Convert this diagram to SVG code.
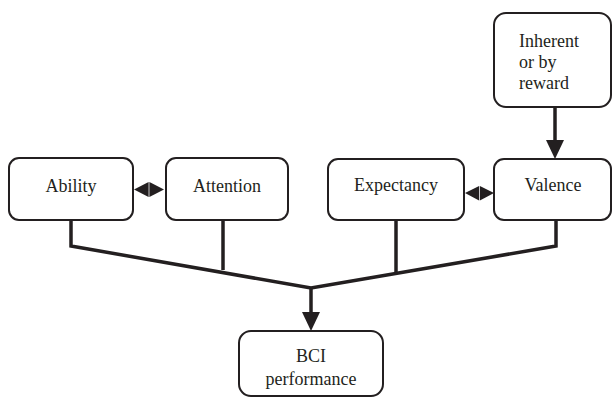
<svg xmlns="http://www.w3.org/2000/svg" width="614" height="399" viewBox="0 0 614 399">
<defs>
<style>
.box{fill:#fff;stroke:#231f20;stroke-width:2}
.c{text-anchor:middle}
.conn{fill:none;stroke:#231f20;stroke-width:3.5;stroke-linejoin:miter}
.head{fill:#231f20}
</style>
</defs>
<rect width="614" height="399" fill="#fff"/>
<g id="connectors">
<polyline class="conn" points="71,221 71,246 311,288 556,246 556,221"/>
<line class="conn" x1="223" y1="221" x2="223" y2="270"/>
<line class="conn" x1="396" y1="221" x2="396" y2="273"/>
<line class="conn" x1="311" y1="288" x2="311" y2="314"/>
<polygon class="head" points="302,312 320,312 311,331"/>
<line class="conn" x1="555" y1="107" x2="555" y2="142"/>
<polygon class="head" points="546,140 564,140 555,159"/>
<polygon class="head" points="134,189.5 148.6,182 148.6,197"/>
<polygon class="head" points="164,189.5 149.4,182 149.4,197"/>
<polygon class="head" points="465,193 479.1,186 479.1,200.5"/>
<polygon class="head" points="494,193 479.9,186 479.9,200.5"/>
</g>
<g font-family="Liberation Serif, Times New Roman, serif" font-size="18" fill="#231f20">
<g id="ability">
<rect class="box" x="9" y="158" width="124" height="62" rx="10"/>
<text class="c" x="71" y="192">Ability</text>
</g>
<g id="attention">
<rect class="box" x="166" y="158" width="122" height="62" rx="10"/>
<text class="c" x="227" y="192">Attention</text>
</g>
<g id="expectancy">
<rect class="box" x="328" y="159" width="136" height="61" rx="10"/>
<text class="c" x="396" y="191">Expectancy</text>
</g>
<g id="valence">
<rect class="box" x="494" y="159" width="117" height="61" rx="10"/>
<text class="c" x="553" y="191">Valence</text>
</g>
<g id="inherent">
<rect class="box" x="494" y="13" width="117" height="94" rx="12"/>
<text x="519" y="47">Inherent</text>
<text x="519" y="68">or by</text>
<text x="519" y="89">reward</text>
</g>
<g id="bci">
<rect class="box" x="239" y="331" width="144" height="65" rx="12"/>
<text class="c" x="311" y="362">BCI</text>
<text class="c" x="311" y="385">performance</text>
</g>
</g>
</svg>
